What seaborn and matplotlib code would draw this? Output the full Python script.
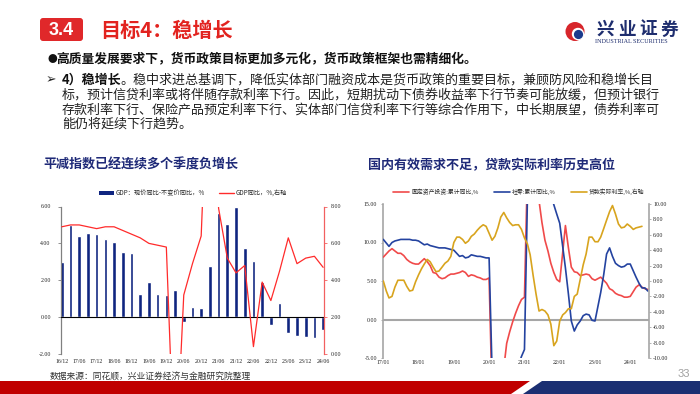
import numpy as np
import pandas as pd
import matplotlib
matplotlib.use("Agg")
import matplotlib.pyplot as plt
import matplotlib.dates as mdates
from matplotlib.patches import FancyBboxPatch, Circle, Polygon, Patch
from matplotlib.lines import Line2D
import seaborn as sns

# ---- left chart data (quarterly) ----
quarters = ["16/12", "17/03", "17/06", "17/09", "17/12", "18/03", "18/06", "18/09", "18/12",
            "19/03", "19/06", "19/09", "19/12", "20/03", "20/06", "20/09", "20/12",
            "21/03", "21/06", "21/09", "21/12", "22/03", "22/06", "22/09", "22/12",
            "23/03", "23/06", "23/09", "23/12", "24/03", "24/06"]
# GDP: nominal yoy - real yoy, %
gdp_gap = [3.0, 5.0, 4.38, 4.56, 4.52, 4.25, 4.06, 3.55, 3.5, 1.27, 1.9, 1.24, 1.22, 1.47,
           -0.29, 0.56, 0.47, 2.8, 5.64, 5.04, 6.0, 3.75, 3.05, 1.88, -0.43, 0.79, -0.88,
           -1.0, -1.06, -1.13, -0.72]
# GDP yoy, %, right axis
gdp_real = [6.9, 7.0, 7.0, 6.9, 6.8, 6.9, 6.9, 6.7, 6.5, 6.3, 6.0, 5.9, 5.8, -6.8, 3.2,
            4.9, 6.4, 18.3, 7.9, 5.2, 4.4, 4.8, 0.4, 3.9, 2.9, 4.5, 6.3, 4.9, 5.2, 5.3, 4.7]

# ---- right chart data (monthly, month end, 2016-12 .. 2024-06) ----
fai_yoy = [8.1,
           None, 8.9, 9.2, 8.9, 8.6, 8.6, 8.3, 7.8, 7.5, 7.3, 7.2, 7.2,
           None, 7.9, 7.5, 7.0, 6.1, 6.0, 5.5, 5.3, 5.4, 5.7, 5.9, 5.9,
           None, 6.1, 6.3, 6.1, 5.6, 5.8, 5.7, 5.5, 5.4, 5.2, 5.2, 5.4,
           None, -24.5, -16.1, -10.3, -6.3, -3.1, -1.6, -0.3, 0.8, 1.8, 2.6, 2.9,
           None, 35.0, 25.6, 19.9, 15.4, 12.6, 10.3, 8.9, 7.3, 6.1, 5.2, 4.9,
           None, 12.2, 9.3, 6.8, 6.2, 6.1, 5.7, 5.8, 5.9, 5.8, 5.3, 5.1,
           None, 5.5, 5.1, 4.7, 4.0, 3.8, 3.4, 3.2, 3.1, 2.9, 2.9, 3.0,
           None, 4.2, 4.5, 4.2, 4.0, 3.9]
retail_yoy = [10.4,
              None, 9.5, 10.0, 10.2, 10.3, 10.4, 10.4, 10.4, 10.4, 10.3, 10.3, 10.2,
              None, 9.7, 9.8, 9.6, 9.5, 9.4, 9.3, 9.3, 9.3, 9.2, 9.1, 9.0,
              None, 8.2, 8.3, 8.0, 8.1, 8.4, 8.3, 8.2, 8.2, 8.1, 8.0, 8.0,
              None, -20.5, -19.0, -16.2, -13.5, -11.4, -9.9, -8.6, -7.2, -5.9, -4.8, -3.9,
              None, 33.8, 33.9, 29.6, 25.7, 23.0, 21.2, 18.1, 16.4, 14.9, 13.7, 12.5,
              None, 6.7, 3.3, -0.2, -1.5, -0.7, -0.2, 0.5, 0.7, 0.6, -0.1, -0.2,
              None, 3.5, 5.8, 8.5, 9.3, 8.2, 7.3, 7.0, 6.8, 6.9, 7.2, 7.2,
              None, 5.5, 4.7, 4.1, 4.1, 3.7]
# loan real rate, %, right axis (2016-12 .. 2024-04)
real_rate = [0.0,
             -1.3, -2.2, -2.0, -0.8, 0.1, 0.1, 0.1, -0.7, -1.3, -1.2, -0.1, 0.8,
             1.6, 2.2, 2.8, 2.5, 1.8, 1.2, 1.3, 1.8, 2.3, 2.6, 3.2, 5.0,
             5.7, 5.7, 5.4, 4.9, 5.2, 5.8, 6.1, 6.6, 7.0, 7.3, 7.1, 6.2,
             5.3, 5.8, 6.9, 8.3, 8.9, 8.2, 7.6, 7.2, 7.3, 7.3, 6.7, 5.6,
             4.8, 3.4, 0.7, -1.7, -3.9, -3.7, -3.9, -4.4, -5.6, -8.4, -7.8, -5.2,
             -4.4, -4.1, -3.6, -3.6, -2.0, -1.7, 0.2, 2.1, 3.5, 5.7, 5.7, 5.1,
             5.1, 5.7, 6.8, 7.9, 9.0, 9.8, 8.7, 7.4, 6.9, 7.0, 7.4, 7.1,
             6.7, 6.9, 7.0, 7.1]

months = pd.date_range("2016-12-01", periods=len(fai_yoy), freq="MS") + pd.offsets.MonthEnd(0)
rate_months = pd.date_range("2016-12-01", periods=len(real_rate), freq="MS") + pd.offsets.MonthEnd(0)

NAVY = "#0f2580"
RED = "#ff2b2b"
RED2 = "#f04a4a"
BLUE2 = "#2443a0"
GOLD = "#d8a41e"
TITLE_NAVY = "#1f2a78"
HEAD_RED = "#e2231f"

sns.set_theme(style="white")
plt.rcParams["font.family"] = ["Noto Sans CJK SC", "DejaVu Sans"]
NUM = "Liberation Serif"

fig = plt.figure(figsize=(7, 3.94), dpi=100)
bg = fig.add_axes([0, 0, 1, 1])
bg.set_xlim(0, 700)
bg.set_ylim(394, 0)
bg.axis("off")

# ---- header ----
bg.add_patch(FancyBboxPatch((40, 18), 43, 23, boxstyle="round,pad=0,rounding_size=3",
                            fc="#e0282a", ec="none"))
bg.text(61.5, 30, "3.4", color="white", fontsize=13, fontweight="bold",
        family="Liberation Sans", ha="center", va="center")
bg.text(100, 30, "目标4：稳增长", color=HEAD_RED, fontsize=14.5, fontweight="bold",
        ha="left", va="center")

# logo
bg.add_patch(Circle((575, 31.5), 9.5, fc="#d7262b", ec="none"))
bg.add_patch(Circle((578, 34), 6.2, fc="white", ec="none"))
bg.add_patch(Circle((578.5, 34.5), 4.6, fc="#1b3a8c", ec="none"))
for i, ch in enumerate("兴业证券"):
    bg.text(605.5 + i * 21.3, 29.5, ch, color="#1e2d6e", fontsize=12.7, fontweight="bold",
            ha="center", va="center")
bg.text(595, 41.5, "INDUSTRIAL SECURITIES", color="#1e2d6e", fontsize=4.4,
        family=NUM, ha="left", va="center")

# text block
bg.text(47, 59, "●", fontsize=7, color="#111111", ha="left", va="center")
bg.text(56, 59, "高质量发展要求下，货币政策目标更加多元化，货币政策框架也需精细化。",
        fontsize=9.2, fontweight="bold", color="#111111", ha="left", va="center")
bg.text(46, 80, "➢", fontsize=9, color="#222222", ha="left", va="center",
        family=["DejaVu Sans"])
bg.text(62, 80, "4）稳增长", fontsize=9.4, fontweight="bold", color="#111111",
        ha="left", va="center")
bg.text(120, 80, "。稳中求进总基调下，降低实体部门融资成本是货币政策的重要目标，兼顾防风险和稳增长目",
        fontsize=9.4, color="#222222", ha="left", va="center")
para = ["标，预计信贷利率或将伴随存款利率下行。因此，短期扰动下债券收益率下行节奏可能放缓，但预计银行",
        "存款利率下行、保险产品预定利率下行、实体部门信贷利率下行等综合作用下，中长期展望，债券利率可",
        "能仍将延续下行趋势。"]
for i, line in enumerate(para):
    bg.text(62, 95.5 + i * 14.3, line, fontsize=9.4, color="#222222", ha="left", va="center")

# chart titles
bg.text(43, 165, "平减指数已经连续多个季度负增长", fontsize=9.4, fontweight="bold",
        color=TITLE_NAVY, ha="left", va="center")
bg.text(368, 165, "国内有效需求不足，贷款实际利率历史高位", fontsize=9.4, fontweight="bold",
        color=TITLE_NAVY, ha="left", va="center")

# source + page number + bottom band
bg.text(50, 377, "数据来源：同花顺，兴业证券经济与金融研究院整理", fontsize=6.3,
        color="#333333", ha="left", va="center")
bg.text(684, 374, "33", fontsize=8, color="#a0a0a0", ha="center", va="center",
        family="Liberation Sans")
bg.add_patch(Polygon([(0, 381), (530, 381), (511, 394), (0, 394)], closed=True,
                     fc="#c00000", ec="none"))
bg.add_patch(Polygon([(542, 381), (700, 381), (700, 394), (523, 394)], closed=True,
                     fc="#1b2f72", ec="none"))

# ---- left chart ----
ax1 = fig.add_axes([60.5 / 700, 1 - 354 / 394, 263.5 / 700, 147.5 / 394])
ax1.patch.set_alpha(0)
sns.barplot(x=quarters, y=gdp_gap, color=NAVY, width=0.42, saturation=1, ax=ax1)
ax1.set_ylim(-2, 6)
ax1.axhline(0, color="black", lw=0.8, zorder=3)
ax1b = ax1.twinx()
sns.lineplot(x=np.arange(len(quarters)), y=gdp_real, color=RED, lw=0.9, ax=ax1b)
ax1b.set_ylim(0, 8)
ax1.set_xlim(-0.15, 30.1)
ax1.set_xticks(range(0, len(quarters), 2))
ax1.set_xticklabels(quarters[::2])
ax1.set_yticks([-2, 0, 2, 4, 6])
ax1.set_yticklabels([f"{v:.2f}" for v in [-2, 0, 2, 4, 6]])
ax1b.set_yticks([0, 2, 4, 6, 8])
ax1b.set_yticklabels([f"{v:.2f}" for v in [0, 2, 4, 6, 8]])
for a in (ax1, ax1b):
    a.set_xlabel("")
    a.set_ylabel("")
    for s in a.spines.values():
        s.set_visible(False)
ax1.spines["left"].set_visible(True)
ax1.spines["left"].set_color("#808080")
ax1.spines["left"].set_linewidth(0.9)
ax1b.spines["right"].set_visible(True)
ax1b.spines["right"].set_color("#f26060")
ax1b.spines["right"].set_linewidth(0.9)
ax1.tick_params(axis="x", length=0, pad=3.5, labelsize=4.2, colors="#222222")
ax1.tick_params(axis="y", left=True, length=2, width=0.6, color="#808080", pad=5,
                labelsize=4.2, labelcolor="#222222")
ax1b.tick_params(axis="y", right=True, length=2, width=0.6, color="#f26060", pad=3,
                 labelsize=4.2, labelcolor="#222222")
for lab in ax1.get_xticklabels() + ax1.get_yticklabels() + ax1b.get_yticklabels():
    lab.set_family(NUM)

fig.legend([Patch(fc=NAVY, ec="none"), Line2D([], [], color=RED, lw=1)],
           ["GDP：现价同比-不变价同比，%", "GDP同比，%,右轴"],
           loc="center", bbox_to_anchor=(193 / 700, 1 - 193 / 394), ncol=2, frameon=False,
           fontsize=4.5, handlelength=2.4, handleheight=0.5, columnspacing=2.2,
           handletextpad=0.3)

# ---- right chart ----
ax2 = fig.add_axes([383.3 / 700, 1 - 358 / 394, 265.7 / 700, 154 / 394])
ax2.patch.set_alpha(0)
dfm = pd.DataFrame({"date": months, "fai": fai_yoy, "retail": retail_yoy})
ax2.axhline(0, color="#a6a6a6", lw=1.5, zorder=1)
for col, c in [("fai", RED2), ("retail", BLUE2)]:
    d = dfm.dropna(subset=[col])
    sns.lineplot(data=d, x="date", y=col, color=c, lw=1.2, ax=ax2, zorder=3)
ax2.set_ylim(-5, 15)
ax2b = ax2.twinx()
sns.lineplot(x=rate_months, y=real_rate, color=GOLD, lw=1.2, ax=ax2b)
ax2b.set_ylim(-10, 10)
ax2.set_xlim(pd.Timestamp("2016-12-31"), pd.Timestamp("2024-07-12"))
ax2.xaxis.set_major_locator(mdates.YearLocator())
ax2.xaxis.set_major_formatter(mdates.DateFormatter("%y/%m"))
ax2.set_yticks([-5, 0, 5, 10, 15])
ax2.set_yticklabels([f"{v:.2f}" for v in [-5, 0, 5, 10, 15]])
rt = list(range(-10, 11, 2))
ax2b.set_yticks(rt)
ax2b.set_yticklabels([f"{v:.2f}" for v in rt])
for a in (ax2, ax2b):
    a.set_xlabel("")
    a.set_ylabel("")
    for s in a.spines.values():
        s.set_visible(False)
ax2.spines["left"].set_visible(True)
ax2.spines["left"].set_color("#a6a6a6")
ax2.spines["left"].set_linewidth(1.2)
ax2b.spines["right"].set_visible(True)
ax2b.spines["right"].set_color("#a6a6a6")
ax2b.spines["right"].set_linewidth(1.2)
ax2.tick_params(axis="x", length=0, pad=1.5, labelsize=4.2, colors="#222222")
ax2.tick_params(axis="y", left=True, length=1.5, width=0.6, color="#a6a6a6", pad=3,
                labelsize=4.2, labelcolor="#222222")
ax2b.tick_params(axis="y", right=True, length=1.5, width=0.6, color="#a6a6a6", pad=1.5,
                 labelsize=4.2, labelcolor="#222222")
for lab in ax2.get_xticklabels() + ax2.get_yticklabels() + ax2b.get_yticklabels():
    lab.set_family(NUM)

fig.legend([Line2D([], [], color=RED2, lw=1.2), Line2D([], [], color=BLUE2, lw=1.2),
            Line2D([], [], color=GOLD, lw=1.2)],
           ["固定资产投资:累计同比,%", "社零:累计同比,%", "贷款实际利率,%,右轴"],
           loc="center", bbox_to_anchor=(519 / 700, 1 - 192 / 394), ncol=3, frameon=False,
           fontsize=4.2, handlelength=2.7, columnspacing=2.6, handletextpad=0.4)

fig.savefig("out.png", dpi=100)
